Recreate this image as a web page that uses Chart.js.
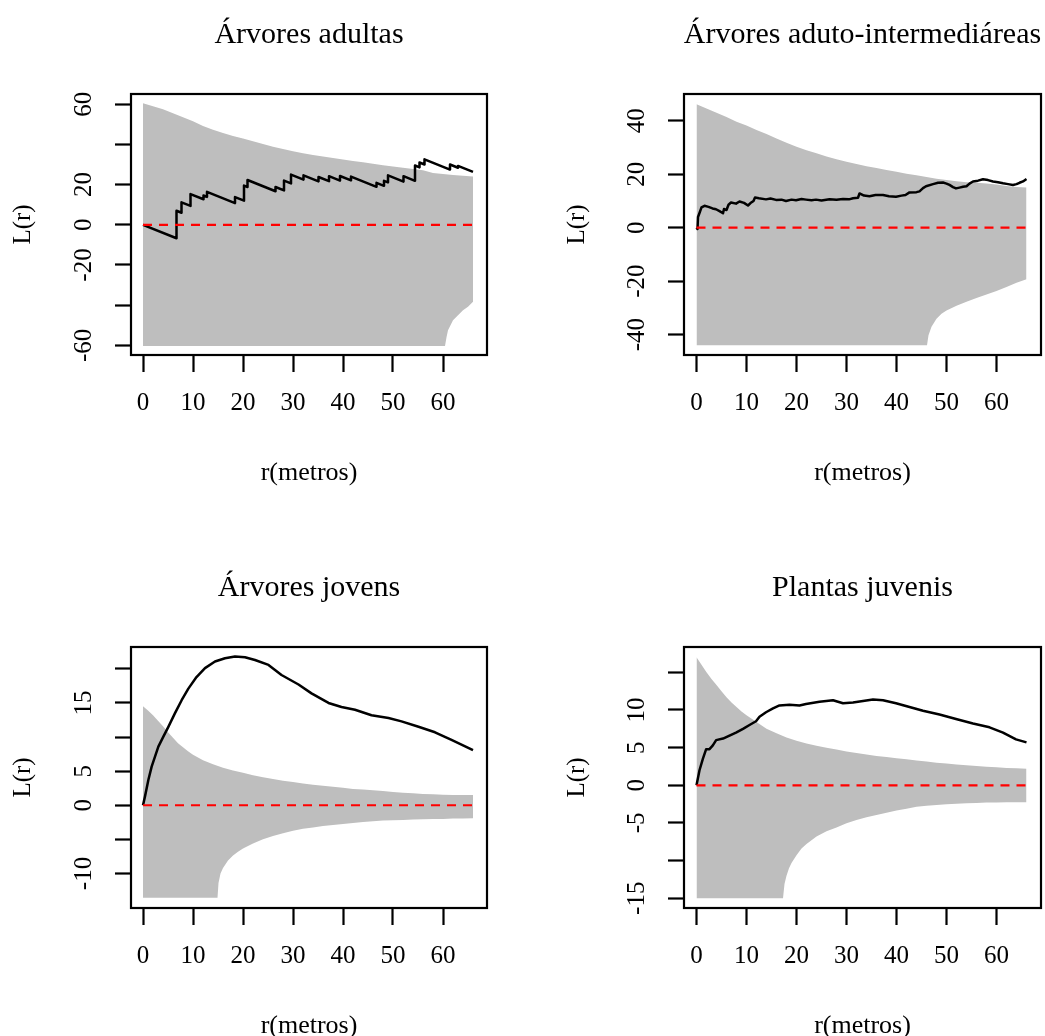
<!DOCTYPE html>
<html>
<head>
<meta charset="utf-8">
<title>Função L(r) – envelopes</title>
<script src="https://cdn.jsdelivr.net/npm/chart.js@4/dist/chart.umd.min.js"></script>
<style>
  html, body { margin: 0; padding: 0; background: #ffffff; overflow: hidden; width: 1045px; height: 1036px; }
  canvas { position: absolute; }
</style>
</head>
<body>
<canvas id="p1"></canvas>
<canvas id="p2"></canvas>
<canvas id="p3"></canvas>
<canvas id="p4"></canvas>
<script>
// ---------------- shared axis data ----------------
const xTicks = [0, 10, 20, 30, 40, 50, 60];
const xTickLabels = ['0', '10', '20', '30', '40', '50', '60'];
const rTheo = [0, 66];
const theo = [0, 0];

// ---------------- Árvores adultas ----------------
const titleA = 'Árvores adultas';
const rHiA = [0,2,4,6,8,10,12,14,16,18,20,22,24,26,28,30,32,34,36,38,40,42,44,46,48,50,52,54,56,58,60,62,64,66];
const hiA = [60.5,59,57.5,55.5,53.5,51.5,49.2,47.3,45.7,44.2,43,41.6,40.2,38.9,37.7,36.6,35.6,34.8,34,33.3,32.5,31.8,31.1,30.4,29.7,29,28.4,27.8,27.2,25.8,25.3,24.8,24.4,24.0];
const rLoA = [0,60.4,60.7,61,62,63,64,65,66];
const loA = [-60.3,-60.3,-56,-52.5,-47.5,-45,-42.5,-40.8,-38.3];
const rObsA = [0,6.7,6.7,7.7,7.7,9.5,9.5,12.1,12.1,12.8,12.8,18.4,18.4,20.2,20.2,20.9,20.9,26.5,26.5,28.2,28.2,29.6,29.6,32.1,32.1,35.1,35.1,37.2,37.2,39.4,39.4,41.6,41.6,46.7,46.7,48.2,48.2,49.0,49.0,52.1,52.1,54.4,54.4,55.3,55.3,56.3,56.3,61.4,61.4,63.0,63.0,66.0];
const obsA = [0,-6.7,7.0,6.0,11.2,9.4,15.3,12.7,14.6,13.9,16.4,10.8,13.8,12.0,19.5,18.8,22.3,16.7,18.8,17.1,22.0,20.6,25.0,22.5,24.6,21.6,23.8,21.7,24.2,22.0,24.3,22.1,24.0,18.9,20.9,19.4,21.9,21.1,24.6,21.5,24.2,21.9,29.5,28.6,31.0,30.0,32.6,27.5,30.0,28.4,29.3,26.3];
const yTicksA = [-60,-40,-20,0,20,40,60];
const yLabelsA = ['-60','','-20','0','20','','60'];

// ---------------- Árvores aduto-intermediáreas ----------------
const titleB = 'Árvores aduto-intermediáreas';
const rHiB = [0,2,4,6,8,10,12,14,16,18,20,22,24,26,28,30,32,34,36,38,40,42,44,46,48,50,52,54,56,58,60,62,64,66];
const hiB = [46.2,44.6,43,41.4,39.6,38.2,36.5,35,33.4,31.8,30.3,29,27.8,26.6,25.6,24.7,23.8,23,22.3,21.6,20.9,20.2,19.6,19,18.3,17.8,17.4,17,16.8,16.5,16.2,15.6,15.2,15];
const rLoB = [0,46.1,46.4,47,48,49,50,52,54,56,58,60,62,64,66];
const loB = [-44,-44,-40.2,-37,-34,-32.2,-31,-29.2,-27.7,-26.3,-25,-23.7,-22.2,-20.6,-19.3];
const rObsB = [0,0.2,0.3,0.6,1.0,1.6,2.4,3.2,3.9,4.6,5.3,5.5,6.0,6.4,6.9,7.9,8.6,9.5,10.3,10.8,11.4,11.7,12.5,13.9,14.8,15.9,17.0,17.9,19.0,19.9,21.0,21.9,23.0,23.9,25.0,26.6,28.0,29.3,30.5,31.3,32.3,32.6,33.5,34.6,35.8,37.3,38.5,39.9,41.0,41.8,42.6,44.0,44.6,45.3,45.9,47.3,48.3,49.3,50.0,50.6,51.3,51.9,52.6,53.3,54.0,54.6,55.3,56.3,57.3,58.3,59.3,60.3,61.3,62.3,63.3,64.0,64.6,65.3,66.0];
const obsB = [0,-0.5,4.0,5.5,7.6,8.2,7.8,7.2,6.9,6.2,5.4,7.0,6.6,8.6,9.4,9.0,9.8,9.3,8.3,9.2,10.0,11.3,11.0,10.6,10.9,10.4,10.5,10.0,10.5,10.3,10.7,10.5,10.3,10.5,10.2,10.6,10.5,10.7,10.6,11.0,11.2,12.8,12.0,11.8,12.2,12.2,11.8,11.6,12.0,12.2,13.2,13.3,13.6,14.8,15.5,16.3,16.8,16.9,16.5,16.0,15.2,14.7,15.0,15.3,15.5,16.5,17.3,17.6,18.1,17.8,17.3,17.0,16.6,16.3,16.0,16.3,16.8,17.3,18.2];
const yTicksB = [-40,-20,0,20,40];
const yLabelsB = ['-40','-20','0','20','40'];

// ---------------- Árvores jovens ----------------
const titleC = 'Árvores jovens';
const rHiC = [0,1,2,3,4,5,6,7,8,9,10,12,14,16,18,20,22,24,26,28,30,32,34,36,38,40,42,44,46,48,50,52,54,56,58,60,62,64,66];
const hiC = [14.5,13.9,13.2,12.4,11.6,10.7,9.9,9.1,8.5,7.9,7.4,6.6,6.0,5.5,5.1,4.75,4.4,4.1,3.85,3.6,3.4,3.2,3.0,2.85,2.7,2.55,2.4,2.3,2.2,2.1,1.95,1.85,1.75,1.65,1.6,1.55,1.5,1.5,1.5];
const rLoC = [0,14.9,15.1,15.5,16,17,18,19,20,22,24,26,28,30,32,34,36,38,40,42,44,46,48,50,52,54,56,58,60,62,64,66];
const loC = [-13.55,-13.55,-11.4,-10,-9.2,-8.1,-7.35,-6.8,-6.35,-5.6,-5.0,-4.5,-4.1,-3.75,-3.45,-3.25,-3.05,-2.9,-2.75,-2.6,-2.45,-2.35,-2.25,-2.2,-2.15,-2.1,-2.05,-2.0,-2.0,-1.95,-1.95,-1.9];
const rObsC = [0,0.4,1.07,1.73,2.4,3.07,4.07,5.07,6.4,7.73,9.07,10.7,12.4,14.4,16.4,18.4,20.4,22.4,25.1,27.7,31.1,33.7,37.1,39.7,42.4,45.7,49.1,51.7,55.1,58.4,61.7,66];
const obsC = [0,1.3,3.7,5.66,7.13,8.6,10.06,11.5,13.5,15.4,17.1,18.8,20.1,21.07,21.55,21.8,21.7,21.3,20.57,19.1,17.7,16.4,15.0,14.4,14.0,13.2,12.8,12.3,11.5,10.7,9.6,8.1];
const yTicksC = [-10,-5,0,5,10,15,20];
const yLabelsC = ['-10','','0','5','','15',''];

// ---------------- Plantas juvenis ----------------
const titleD = 'Plantas juvenis';
const rHiD = [0,1,2,3,4,5,6,7,8,9,10,12,14,16,18,20,22,24,26,28,30,32,34,36,38,40,42,44,46,48,50,52,54,56,58,60,62,64,66];
const hiD = [17.0,16.0,15.0,14.1,13.3,12.5,11.7,11.0,10.4,9.8,9.3,8.4,7.5,6.9,6.35,5.9,5.55,5.25,5.0,4.75,4.5,4.3,4.1,3.9,3.75,3.6,3.45,3.3,3.15,3.0,2.9,2.75,2.65,2.55,2.45,2.4,2.3,2.25,2.2];
const rLoD = [0,17.3,17.6,18,18.5,19,20,21,22,24,26,28,30,32,34,36,38,40,42,44,46,48,50,52,54,56,58,60,62,64,66];
const loD = [-15,-15,-13.1,-12,-11,-10.3,-9.3,-8.4,-7.8,-6.8,-6.1,-5.6,-5.05,-4.6,-4.25,-3.95,-3.65,-3.35,-3.1,-2.85,-2.7,-2.6,-2.5,-2.45,-2.4,-2.35,-2.3,-2.3,-2.25,-2.25,-2.25];
const rObsD = [0,0.6,1.27,1.93,2.6,3.27,3.93,5.3,6.6,7.9,9.3,10.6,11.9,12.6,13.9,15.3,16.6,18.6,20.6,21.9,24.6,27.3,29.3,31.3,33.3,35.3,37.3,39.9,42.6,45.3,48.6,51.9,55.3,58.6,61.3,63.9,66];
const obsD = [0,2.0,3.5,4.8,4.8,5.3,6.0,6.2,6.6,7.0,7.5,8.0,8.5,9.1,9.7,10.2,10.6,10.7,10.6,10.8,11.1,11.3,10.9,11.0,11.2,11.4,11.3,10.9,10.4,9.9,9.4,8.8,8.2,7.7,7.0,6.1,5.7];
const yTicksD = [-15,-10,-5,0,5,10,15];
const yLabelsD = ['-15','','-5','0','5','10',''];

// ---------------- drawing ----------------
const FAMILY = "'Liberation Serif', 'Times New Roman', serif";
const TICK_SIZE = 25;
const measureCtx = document.createElement('canvas').getContext('2d');
function widestLabel(labels) {
  measureCtx.font = 'normal ' + TICK_SIZE + 'px ' + FAMILY;
  return Math.max(...labels.map(s => measureCtx.measureText(s).width));
}
const zip = (xs, ys) => xs.map((x, i) => ({ x: x, y: ys[i] }));

// box around the plotting region plus the panel heading
const framePlugin = {
  id: 'frame',
  afterDraw(chart, args, opts) {
    const { ctx, chartArea: a } = chart;
    ctx.save();
    ctx.strokeStyle = '#000';
    ctx.lineWidth = 2.2;
    ctx.strokeRect(a.left, a.top, a.right - a.left, a.bottom - a.top);
    ctx.fillStyle = '#000';
    ctx.font = 'normal 30px ' + FAMILY;
    ctx.textAlign = 'center';
    ctx.textBaseline = 'alphabetic';
    ctx.fillText(opts.text, (a.left + a.right) / 2, opts.baseline);
    ctx.restore();
  }
};

function makePanel(id, p) {
  const canvas = document.getElementById(id);
  canvas.width = p.w;
  canvas.height = 518;
  canvas.style.left = p.left + 'px';
  canvas.style.top = p.top + 'px';

  const yPad = 47 - 16 - widestLabel(p.yLabels) / 2;

  return new Chart(canvas, {
    type: 'line',
    data: {
      datasets: [
        { data: zip(rTheo, theo), borderColor: '#ff0000', borderWidth: 2.2, borderDash: [9, 7],
          pointRadius: 0, fill: false },
        { data: zip(p.rObs, p.obs), borderColor: '#000000', borderWidth: 2.5, borderJoinStyle: 'round',
          pointRadius: 0, fill: false },
        { data: zip(p.rHi, p.hi), borderColor: 'rgba(0,0,0,0)', borderWidth: 0, pointRadius: 0,
          fill: '+1', backgroundColor: '#bebebe' },
        { data: zip(p.rLo, p.lo), borderColor: 'rgba(0,0,0,0)', borderWidth: 0, pointRadius: 0,
          fill: false }
      ]
    },
    options: {
      responsive: false,
      maintainAspectRatio: false,
      devicePixelRatio: 1,
      animation: false,
      events: [],
      layout: { padding: { left: 0, right: p.padRight, top: 94, bottom: 0 } },
      plugins: {
        legend: { display: false },
        tooltip: { enabled: false },
        frame: { text: p.title, baseline: 43.3 }
      },
      scales: {
        x: {
          type: 'linear',
          min: p.xMin, max: p.xMax,
          afterBuildTicks: s => { s.ticks = xTicks.map(v => ({ value: v })); },
          afterFit: s => { s.height = 163; },
          border: { display: false },
          grid: { drawOnChartArea: false, drawTicks: true, tickLength: 17, tickWidth: 2.2, tickColor: '#000' },
          ticks: {
            autoSkip: false, minRotation: 0, maxRotation: 0, padding: 16.3, color: '#000',
            font: { family: FAMILY, size: TICK_SIZE },
            callback: (v, i) => xTickLabels[i]
          },
          title: {
            display: true, text: 'r(metros)', color: '#000',
            font: { family: FAMILY, size: 26 },
            padding: { top: 0, bottom: 29.4 }
          }
        },
        y: {
          type: 'linear',
          min: p.yMin, max: p.yMax,
          afterBuildTicks: s => { s.ticks = p.yTicks.map(v => ({ value: v })); },
          afterFit: s => { s.width = p.yWidth; },
          border: { display: false },
          grid: { drawOnChartArea: false, drawTicks: true, tickLength: 16, tickWidth: 2.2, tickColor: '#000' },
          ticks: {
            autoSkip: false, minRotation: 90, maxRotation: 90, crossAlign: 'center',
            padding: yPad, color: '#000',
            font: { family: FAMILY, size: TICK_SIZE },
            callback: (v, i) => p.yLabels[i]
          },
          title: {
            display: true, text: 'L(r)', color: '#000',
            font: { family: FAMILY, size: 25 },
            padding: { top: p.yTitlePad, bottom: 0 }
          }
        }
      }
    },
    plugins: [framePlugin]
  });
}

const leftCol = { left: 0, w: 522, yWidth: 131, padRight: 35, yTitlePad: 8.0, xMin: -2.4, xMax: 68.8 };
const rightCol = { left: 522, w: 523, yWidth: 162, padRight: 4, yTitlePad: 40.0, xMin: -2.5, xMax: 68.9 };

makePanel('p1', Object.assign({}, leftCol, {
  top: 0, title: titleA, rHi: rHiA, hi: hiA, rLo: rLoA, lo: loA, rObs: rObsA, obs: obsA,
  yTicks: yTicksA, yLabels: yLabelsA, yMin: -64.8, yMax: 65.1
}));
makePanel('p2', Object.assign({}, rightCol, {
  top: 0, title: titleB, rHi: rHiB, hi: hiB, rLo: rLoB, lo: loB, rObs: rObsB, obs: obsB,
  yTicks: yTicksB, yLabels: yLabelsB, yMin: -47.6, yMax: 50.0
}));
makePanel('p3', Object.assign({}, leftCol, {
  top: 553, title: titleC, rHi: rHiC, hi: hiC, rLo: rLoC, lo: loC, rObs: rObsC, obs: obsC,
  yTicks: yTicksC, yLabels: yLabelsC, yMin: -15.06, yMax: 23.2
}));
makePanel('p4', Object.assign({}, rightCol, {
  top: 553, title: titleD, rHi: rHiD, hi: hiD, rLo: rLoD, lo: loD, rObs: rObsD, obs: obsD,
  yTicks: yTicksD, yLabels: yLabelsD, yMin: -16.29, yMax: 18.36
}));
</script>
</body>
</html>
